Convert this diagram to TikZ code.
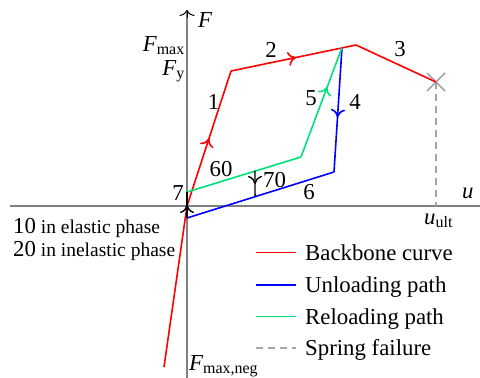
\documentclass[tikz,border=0pt]{standalone}
\usepackage{fontspec}
\setmainfont{Liberation Serif}
\usetikzlibrary{arrows.meta,calc,decorations.markings}
\definecolor{axisgray}{RGB}{128,128,128}
\definecolor{failgray}{RGB}{165,165,165}
\definecolor{reloadgreen}{RGB}{0,225,120}

\begin{document}
\begin{tikzpicture}[x=1pt,y=-1pt,
    axis/.style={draw=axisgray,line width=1.6pt},
    backbone/.style={draw=red,line width=1.6pt},
    unload/.style={draw=blue,line width=1.6pt},
    reload/.style={draw=reloadgreen,line width=1.6pt},
    failure/.style={draw=failgray,line width=1.6pt,dash pattern=on 7pt off 5pt},
    midarrow/.style={postaction={decorate},decoration={markings,
        mark=at position #1 with {\arrow{To[length=8pt,width=14pt]}}}},
    lbl/.style={inner sep=0pt,font=\fontsize{22.8}{26}\selectfont},
    note/.style={inner sep=0pt,font=\fontsize{19.5}{22}\selectfont},
  ]
        \useasboundingbox (0,0) rectangle (480,378);

        \coordinate (xl) at (10,206);
        \coordinate (xr) at (480,206);
        \coordinate (yb) at (187,378);
        \coordinate (yt) at (187,10);
        \draw[axis] (xl) -- (xr);
        \draw[axis] (yb) -- (yt);
        \draw[line width=1pt,-{To[length=6pt,width=15pt]}] ($(yt)+(0,8)$) -- (yt);

        \coordinate (O) at (187,206);
        \coordinate (N) at (164,367);
        \coordinate (Y) at (231,71);
        \coordinate (M) at (356,45);
        \coordinate (U) at (436,82);
        \coordinate (R) at (342,47.5);
        \coordinate (B) at (334,172);
        \coordinate (Be) at (187,218);
        \coordinate (Gs) at (187,192);
        \coordinate (G) at (301,157);
        \coordinate (Ub) at (436,206);

        \draw[failure] (U) -- (Ub);
        \draw[failgray,line width=1.6pt] ($(U)+(-9,-9)$) -- ($(U)+(9,9)$);
        \draw[failgray,line width=1.6pt] ($(U)+(9,-9)$) -- ($(U)+(-9,9)$);

        \draw[backbone] (N) -- (O);
        \draw[backbone,midarrow=0.5] (O) -- (Y);
        \draw[backbone,midarrow=0.52] (Y) -- (M);
        \draw[backbone] (M) -- (U);

        \draw[unload,midarrow=0.56] (R) -- (B);
        \draw[unload] (B) -- (Be);
        \draw[reload] (Gs) -- (G);
        \draw[reload,midarrow=0.64] (G) -- (R);

        \coordinate (g70) at ($(Gs)!0.596!(G)$);
        \coordinate (b70) at ($(Be)!0.463!(B)$);
        \draw[line width=1.4pt,midarrow=0.5] (g70) -- (b70);
        \draw[line width=1.4pt,midarrow=0.5] (Be) -- (Gs);

        \node[lbl,anchor=base west] (Flab) at (198,27) {\itshape F};
        \node[lbl,anchor=base east] (Fmax) at (185,51) {{\itshape F}\textsubscript{max}};
        \node[lbl,anchor=base east] (Fy) at (185,75) {{\itshape F}\textsubscript{y}};
        \node[lbl,anchor=base west] (Fneg) at (189,370) {{\itshape F}\textsubscript{max,neg}};
        \node[lbl,anchor=base west] (ulab) at (462,198) {\itshape u};
        \node[lbl,anchor=base west] (uult) at (424,224) {{\itshape u}\textsubscript{ult}};

        \node[lbl] (l1) at (213.5,102) {1};
        \node[lbl] (l2) at (271,50) {2};
        \node[lbl] (l3) at (400,49.5) {3};
        \node[lbl] (l4) at (355,101.5) {4};
        \node[lbl] (l5) at (311,98) {5};
        \node[lbl] (l6) at (309,192) {6};
        \node[lbl] (l7) at (178,193) {7};
        \node[lbl] (l60) at (221,169) {60};
        \node[lbl] (l70) at (274.5,180) {70};

        \node[note,anchor=base west] (n10) at (13,233) {{\fontsize{22.8}{26}\selectfont 10} in elastic phase};
        \node[note,anchor=base west] (n20) at (13,256) {{\fontsize{22.8}{26}\selectfont 20} in inelastic phase};

        \foreach \sty/\txt/\yy in {backbone/Backbone curve/260,unload/Unloading path/292.5,
            reload/Reloading path/324,failure/Spring failure/355.5} {
          \node[lbl,anchor=base west] (key) at (305,\yy) {\txt};
          \draw[\sty] ($(key.base west)+(-49,-7.5)$) -- ++(40,0);
        }
\end{tikzpicture}
\end{document}
